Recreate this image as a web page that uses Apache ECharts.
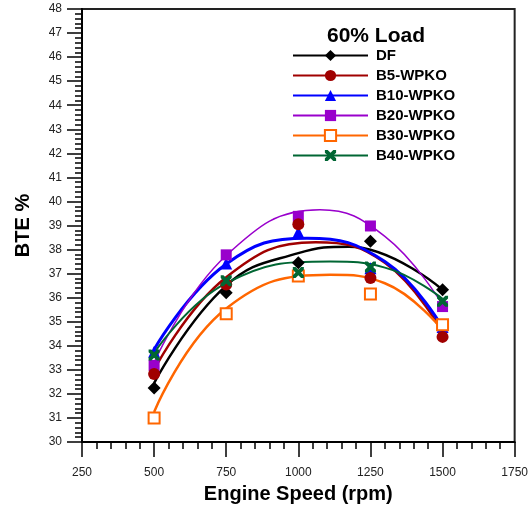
<!DOCTYPE html>
<html>
<head>
<meta charset="utf-8">
<script src="https://cdn.jsdelivr.net/npm/echarts@6/dist/echarts.min.js"></script>
<style>
  html, body { margin: 0; padding: 0; background: #fff; }
  #chart { width: 531px; height: 510px; }
</style>
</head>
<body>
<div id="chart"></div>
<script>
// measured points
var speeds = [500, 750, 1000, 1250, 1500];
var df = [32.25, 36.2, 37.45, 38.35, 36.33];
var b5 = [32.83, 36.55, 39.05, 36.82, 34.37];
var b10 = [33.75, 37.42, 38.72, 37.22, 34.78];
var b20 = [33.18, 37.78, 39.38, 38.98, 35.63];
var b30 = [31.0, 35.33, 36.9, 36.15, 34.87];
var b40 = [33.62, 36.7, 37.05, 37.28, 35.85];

// trend curves (x where read, y there)
var dfFitX = [500, 750, 1000, 1175, 1500];
var dfFit = [32.45, 36.5, 37.85, 38.12, 36.33];
var b5FitX = [500, 750, 1060, 1300, 1500];
var b5Fit = [33.0, 36.85, 38.3, 37.45, 34.55];
var b10FitX = [500, 750, 1030, 1300, 1500];
var b10Fit = [33.85, 37.4, 38.47, 37.5, 34.75];
var b20FitX = [500, 750, 1075, 1300, 1500];
var b20Fit = [33.3, 37.75, 39.65, 38.55, 35.7];
var b30FitX = [500, 750, 1110, 1300, 1500];
var b30Fit = [31.25, 35.55, 36.95, 36.6, 34.65];
var b40FitX = [500, 750, 1110, 1300, 1500];
var b40Fit = [33.7, 36.6, 37.5, 37.25, 35.95];

var names = ['DF', 'B5-WPKO', 'B10-WPKO', 'B20-WPKO', 'B30-WPKO', 'B40-WPKO'];
var yTicks = { min: 30, max: 48, step: 1 };
var xTicks = { min: 250, max: 1750, step: 250 };

var font = 'Arial, "Liberation Sans", sans-serif';
var crossPath = 'path://M0,0 L2.5,0 L5,2.5 L7.5,0 L10,0 L10,2.5 L7.5,5 L10,7.5 L10,10 L7.5,10 L5,7.5 L2.5,10 L0,10 L0,7.5 L2.5,5 L0,2.5 Z';

var looks = [
  { color: '#000000', width: 2.5, symbol: 'diamond', size: 13, z: 4 },
  { color: '#a00000', width: 2.5, symbol: 'circle', size: 12, z: 5 },
  { color: '#0000ff', width: 3, symbol: 'triangle', size: 12, z: 3 },
  { color: '#9900cc', width: 1.5, symbol: 'rect', size: 11, z: 3 },
  { color: '#ff6600', width: 2.5, symbol: 'rect', size: 11, z: 3, hollow: true },
  { color: '#006633', width: 2, symbol: crossPath, size: 11, z: 6 }
];

var measured = [df, b5, b10, b20, b30, b40];
var fitXs = [dfFitX, b5FitX, b10FitX, b20FitX, b30FitX, b40FitX];
var fits = [dfFit, b5Fit, b10Fit, b20Fit, b30Fit, b40Fit];

function pairs(xs, ys) {
  return xs.map(function (x, i) { return [x, ys[i]]; });
}

var series = [];
names.forEach(function (name, i) {
  var l = looks[i];
  series.push({
    name: name,
    type: 'line',
    smooth: 0.45,
    showSymbol: false,
    symbol: l.symbol,
    color: l.color,
    lineStyle: { color: l.color, width: l.width },
    itemStyle: l.hollow ? { color: '#fff', borderColor: l.color, borderWidth: 2 } : { color: l.color },
    z: 2,
    silent: true,
    data: pairs(fitXs[i], fits[i])
  });
});
names.forEach(function (name, i) {
  var l = looks[i];
  series.push({
    name: name,
    type: 'scatter',
    symbol: l.symbol,
    symbolSize: l.size,
    itemStyle: l.hollow ? { color: '#fff', borderColor: l.color, borderWidth: 2, opacity: 1 } : { color: l.color, opacity: 1 },
    z: l.z,
    data: pairs(speeds, measured[i])
  });
});

var legendData = names.map(function (name, i) {
  var l = looks[i];
  var item = { name: name };
  if (l.hollow) item.itemStyle = { color: '#fff', borderColor: l.color, borderWidth: 2 };
  return item;
});

function plain(v) { return String(v); }

var chart = echarts.init(document.getElementById('chart'));
chart.setOption({
  animation: false,
  backgroundColor: '#fff',
  title: {
    text: '60% Load',
    left: 376,
    top: 26,
    textAlign: 'center',
    padding: 0,
    textStyle: { fontFamily: font, fontSize: 21, fontWeight: 'bold', color: '#000' }
  },
  legend: {
    data: legendData,
    orient: 'vertical',
    left: 292,
    top: 48,
    padding: 0,
    itemWidth: 75,
    itemHeight: 14,
    itemGap: 5,
    textStyle: { fontFamily: font, fontSize: 15, fontWeight: 'bold', color: '#000', padding: [0, 0, 0, 3] }
  },
  grid: {
    left: 82, right: 15, top: 9, bottom: 68,
    show: true,
    borderColor: '#222',
    borderWidth: 2
  },
  xAxis: {
    type: 'value',
    min: xTicks.min,
    max: xTicks.max,
    interval: xTicks.step,
    name: 'Engine Speed (rpm)',
    nameLocation: 'middle',
    nameGap: 42,
    nameTextStyle: { fontFamily: font, fontSize: 20, fontWeight: 'bold', color: '#000' },
    axisLine: { lineStyle: { color: '#000', width: 2 } },
    axisTick: { length: 15, lineStyle: { color: '#000', width: 1.5 } },
    minorTick: { show: true, splitNumber: 5, length: 7, lineStyle: { color: '#000', width: 1.5 } },
    splitLine: { show: false },
    axisLabel: { margin: 25, fontFamily: font, fontSize: 12, color: '#222', formatter: plain }
  },
  yAxis: {
    type: 'value',
    min: yTicks.min,
    max: yTicks.max,
    interval: yTicks.step,
    name: 'BTE %',
    nameLocation: 'middle',
    nameGap: 49,
    nameTextStyle: { fontFamily: font, fontSize: 20, fontWeight: 'bold', color: '#000' },
    axisLine: { lineStyle: { color: '#000', width: 2 } },
    axisTick: { length: 15, lineStyle: { color: '#000', width: 1.5 } },
    minorTick: { show: true, splitNumber: 5, length: 7, lineStyle: { color: '#000', width: 1.5 } },
    splitLine: { show: false },
    axisLabel: { margin: 20, fontFamily: font, fontSize: 12, color: '#222', formatter: plain }
  },
  series: series
});
</script>
</body>
</html>
